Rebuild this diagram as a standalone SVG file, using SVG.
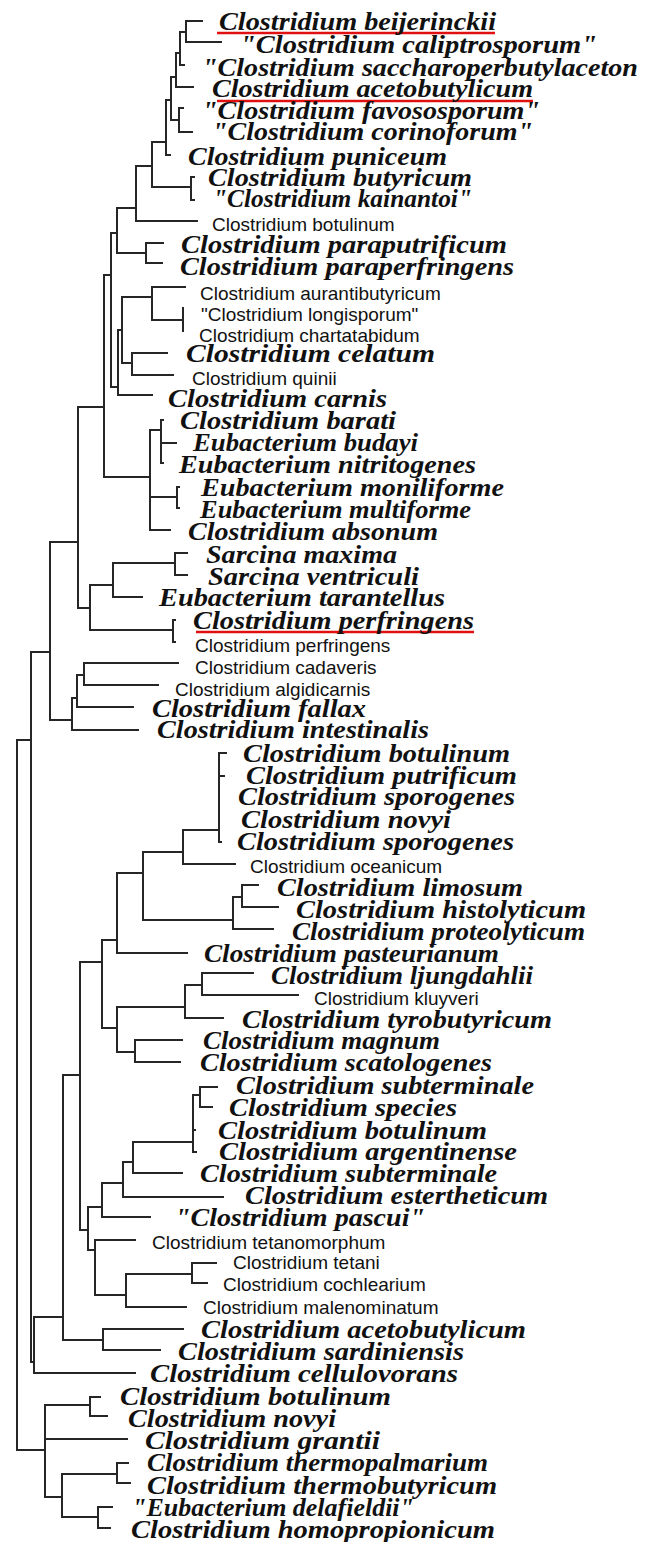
<svg xmlns="http://www.w3.org/2000/svg" width="647" height="1542" viewBox="0 0 647 1542">
<style>
.b{font-family:"Liberation Serif","Times New Roman",serif;font-weight:bold;font-style:italic;font-size:25px;fill:#111}
.p{font-family:"Liberation Sans",Arial,sans-serif;font-size:19px;fill:#111}
.l{stroke:#262626;stroke-width:2;fill:none;stroke-linecap:square}
.u{stroke:#e01010;stroke-width:2.5}
</style>
<rect width="647" height="1542" fill="#fff"/>
<g id="connectors">
<path class="l" d="M186 21V42M186 21H202M186 42H221"/>
<path class="l" d="M180 32V65M180 32H186M180 65H184"/>
<path class="l" d="M176 53V87M176 53H180M176 87H193"/>
<path class="l" d="M179 108V132M179 108H183M179 132H192"/>
<path class="l" d="M171 77V120M171 77H176M171 120H179"/>
<path class="l" d="M166 100V155M166 100H171M166 155H170"/>
<path class="l" d="M191 177V200M191 177H194M191 200H194"/>
<path class="l" d="M152 142V187M152 142H166M152 187H191"/>
<path class="l" d="M136 166V221M136 166H152M136 221H197"/>
<path class="l" d="M146 243V263M146 243H163M146 263H162"/>
<path class="l" d="M117 208V253M117 208H136M117 253H146"/>
<path class="l" d="M183 308V331"/>
<path class="l" d="M152 287V320M152 287H185M152 320H183"/>
<path class="l" d="M132 353V375M132 353H167M132 375H173"/>
<path class="l" d="M122 297V363M122 297H152M122 363H132"/>
<path class="l" d="M118 330V395M118 330H122M118 395H152"/>
<path class="l" d="M111 233V387M111 233H117M111 387H118"/>
<path class="l" d="M161 420V463M161 443H176M161 420H163M161 463H163"/>
<path class="l" d="M177 487V508M177 487H179M177 508H179"/>
<path class="l" d="M150 430V530M150 430H161M150 497H177M150 530H170"/>
<path class="l" d="M104 275V477M104 275H111M104 477H150"/>
<path class="l" d="M175 553V575M175 553H187M175 575H187"/>
<path class="l" d="M113 563V597M113 563H175M113 597H142"/>
<path class="l" d="M173 620V642M173 620H175M173 642H175"/>
<path class="l" d="M90 585V630M90 585H113M90 630H173"/>
<path class="l" d="M78 407V608M78 407H104M78 608H90"/>
<path class="l" d="M84 663V685M84 663H178M84 685H158"/>
<path class="l" d="M77 675V707M77 675H84M77 707H133"/>
<path class="l" d="M72 698V730M72 698H77M72 730H138"/>
<path class="l" d="M50 542V720M50 542H78M50 720H72"/>
<path class="l" d="M31 652V1362M31 652H50M31 1362H34"/>
<path class="l" d="M17 740V1450M17 740H31M17 1450H45"/>
<path class="l" d="M219 753V842M219 753H226M219 776H224M219 842H221"/>
<path class="l" d="M183 830V864M183 830H219M183 864H235"/>
<path class="l" d="M242 885V907M242 885H258M242 907H278"/>
<path class="l" d="M233 897V929M233 897H242M233 929H273"/>
<path class="l" d="M143 852V920M143 852H183M143 920H233"/>
<path class="l" d="M117 873V953M117 873H143M117 953H187"/>
<path class="l" d="M202 973V995M202 973H253M202 995H298"/>
<path class="l" d="M185 985V1018M185 985H202M185 1018H223"/>
<path class="l" d="M135 1040V1062M135 1040H182M135 1062H180"/>
<path class="l" d="M117 1007V1052M117 1007H185M117 1052H135"/>
<path class="l" d="M102 940V1028M102 940H117M102 1028H117"/>
<path class="l" d="M200 1087V1107M200 1087H217M200 1107H212"/>
<path class="l" d="M193 1095V1152M193 1095H200M193 1130H195M193 1152H196"/>
<path class="l" d="M133 1142V1173M133 1142H193M133 1173H182"/>
<path class="l" d="M123 1162V1197M123 1162H133M123 1197H223"/>
<path class="l" d="M102 1183V1217M102 1183H123M102 1217H150"/>
<path class="l" d="M192 1263V1283M192 1263H216M192 1283H207"/>
<path class="l" d="M126 1274V1307M126 1274H192M126 1307H186"/>
<path class="l" d="M95 1240V1295M95 1240H135M95 1295H126"/>
<path class="l" d="M88 1207V1250M88 1207H102M88 1250H95"/>
<path class="l" d="M80 962V1230M80 962H102M80 1230H88"/>
<path class="l" d="M103 1329V1350M103 1329H183M103 1350H160"/>
<path class="l" d="M63 1075V1340M63 1075H80M63 1340H103"/>
<path class="l" d="M34 1317V1373M34 1317H63M34 1373H135"/>
<path class="l" d="M90 1397V1416M90 1397H100M90 1416H107"/>
<path class="l" d="M45 1405V1497M45 1405H90M45 1439H127M45 1497H62"/>
<path class="l" d="M117 1463V1483M117 1463H128M117 1483H130"/>
<path class="l" d="M98 1507V1528M98 1507H112M98 1528H110"/>
<path class="l" d="M62 1474V1517M62 1474H117M62 1517H98"/>
<line class="u" x1="217" y1="33" x2="495" y2="33"/>
<line class="u" x1="217" y1="101" x2="533" y2="101"/>
<line class="u" x1="196" y1="632" x2="474" y2="632"/>
</g>
<g id="t1"><text class="b" x="219" y="30" textLength="277" lengthAdjust="spacingAndGlyphs">Clostridium beijerinckii</text></g>
<g id="t2"><text class="b" x="240" y="53" textLength="357" lengthAdjust="spacingAndGlyphs">"Clostridium caliptrosporum"</text></g>
<g id="t3"><text class="b" x="202" y="76" textLength="436" lengthAdjust="spacingAndGlyphs">"Clostridium saccharoperbutylaceton</text></g>
<g id="t4"><text class="b" x="212" y="97" textLength="321" lengthAdjust="spacingAndGlyphs">Clostridium acetobutylicum</text></g>
<g id="t5"><text class="b" x="202" y="119" textLength="338" lengthAdjust="spacingAndGlyphs">"Clostridium favososporum"</text></g>
<g id="t6"><text class="b" x="212" y="140" textLength="321" lengthAdjust="spacingAndGlyphs">"Clostridium corinoforum"</text></g>
<g id="t7"><text class="b" x="188" y="165" textLength="259" lengthAdjust="spacingAndGlyphs">Clostridium puniceum</text></g>
<g id="t8"><text class="b" x="208" y="186" textLength="264" lengthAdjust="spacingAndGlyphs">Clostridium butyricum</text></g>
<g id="t9"><text class="b" x="213" y="207" textLength="259" lengthAdjust="spacingAndGlyphs">"Clostridium kainantoi"</text></g>
<g id="t10"><text class="p" x="212" y="231">Clostridium botulinum</text></g>
<g id="t11"><text class="b" x="181" y="253" textLength="326" lengthAdjust="spacingAndGlyphs">Clostridium paraputrificum</text></g>
<g id="t12"><text class="b" x="180" y="275" textLength="334" lengthAdjust="spacingAndGlyphs">Clostridium paraperfringens</text></g>
<g id="t13"><text class="p" x="200" y="300">Clostridium aurantibutyricum</text></g>
<g id="t14"><text class="p" x="201" y="321">"Clostridium longisporum"</text></g>
<g id="t15"><text class="p" x="199" y="342">Clostridium chartatabidum</text></g>
<g id="t16"><text class="b" x="186" y="362" textLength="249" lengthAdjust="spacingAndGlyphs">Clostridium celatum</text></g>
<g id="t17"><text class="p" x="192" y="385">Clostridium quinii</text></g>
<g id="t18"><text class="b" x="168" y="407" textLength="219" lengthAdjust="spacingAndGlyphs">Clostridium carnis</text></g>
<g id="t19"><text class="b" x="180" y="429" textLength="216" lengthAdjust="spacingAndGlyphs">Clostridium barati</text></g>
<g id="t20"><text class="b" x="193" y="451" textLength="225" lengthAdjust="spacingAndGlyphs">Eubacterium budayi</text></g>
<g id="t21"><text class="b" x="179" y="473" textLength="297" lengthAdjust="spacingAndGlyphs">Eubacterium nitritogenes</text></g>
<g id="t22"><text class="b" x="201" y="496" textLength="303" lengthAdjust="spacingAndGlyphs">Eubacterium moniliforme</text></g>
<g id="t23"><text class="b" x="200" y="518" textLength="271" lengthAdjust="spacingAndGlyphs">Eubacterium multiforme</text></g>
<g id="t24"><text class="b" x="188" y="540" textLength="250" lengthAdjust="spacingAndGlyphs">Clostridium absonum</text></g>
<g id="t25"><text class="b" x="206" y="563" textLength="191" lengthAdjust="spacingAndGlyphs">Sarcina maxima</text></g>
<g id="t26"><text class="b" x="208" y="585" textLength="211" lengthAdjust="spacingAndGlyphs">Sarcina ventriculi</text></g>
<g id="t27"><text class="b" x="159" y="606" textLength="286" lengthAdjust="spacingAndGlyphs">Eubacterium tarantellus</text></g>
<g id="t28"><text class="b" x="193" y="629" textLength="281" lengthAdjust="spacingAndGlyphs">Clostridium perfringens</text></g>
<g id="t29"><text class="p" x="195" y="652">Clostridium perfringens</text></g>
<g id="t30"><text class="p" x="195" y="674">Clostridium cadaveris</text></g>
<g id="t31"><text class="p" x="175" y="696">Clostridium algidicarnis</text></g>
<g id="t32"><text class="b" x="152" y="717" textLength="214" lengthAdjust="spacingAndGlyphs">Clostridium fallax</text></g>
<g id="t33"><text class="b" x="157" y="738" textLength="272" lengthAdjust="spacingAndGlyphs">Clostridium intestinalis</text></g>
<g id="t34"><text class="b" x="243" y="762" textLength="267" lengthAdjust="spacingAndGlyphs">Clostridium botulinum</text></g>
<g id="t35"><text class="b" x="246" y="784" textLength="271" lengthAdjust="spacingAndGlyphs">Clostridium putrificum</text></g>
<g id="t36"><text class="b" x="238" y="805" textLength="277" lengthAdjust="spacingAndGlyphs">Clostridium sporogenes</text></g>
<g id="t37"><text class="b" x="241" y="828" textLength="210" lengthAdjust="spacingAndGlyphs">Clostridium novyi</text></g>
<g id="t38"><text class="b" x="237" y="850" textLength="277" lengthAdjust="spacingAndGlyphs">Clostridium sporogenes</text></g>
<g id="t39"><text class="p" x="250" y="873">Clostridium oceanicum</text></g>
<g id="t40"><text class="b" x="277" y="896" textLength="246" lengthAdjust="spacingAndGlyphs">Clostridium limosum</text></g>
<g id="t41"><text class="b" x="296" y="918" textLength="290" lengthAdjust="spacingAndGlyphs">Clostridium histolyticum</text></g>
<g id="t42"><text class="b" x="292" y="940" textLength="293" lengthAdjust="spacingAndGlyphs">Clostridium proteolyticum</text></g>
<g id="t43"><text class="b" x="204" y="962" textLength="295" lengthAdjust="spacingAndGlyphs">Clostridium pasteurianum</text></g>
<g id="t44"><text class="b" x="271" y="984" textLength="262" lengthAdjust="spacingAndGlyphs">Clostridium ljungdahlii</text></g>
<g id="t45"><text class="p" x="314" y="1005">Clostridium kluyveri</text></g>
<g id="t46"><text class="b" x="242" y="1028" textLength="310" lengthAdjust="spacingAndGlyphs">Clostridium tyrobutyricum</text></g>
<g id="t47"><text class="b" x="203" y="1049" textLength="237" lengthAdjust="spacingAndGlyphs">Clostridium magnum</text></g>
<g id="t48"><text class="b" x="200" y="1071" textLength="292" lengthAdjust="spacingAndGlyphs">Clostridium scatologenes</text></g>
<g id="t49"><text class="b" x="236" y="1094" textLength="298" lengthAdjust="spacingAndGlyphs">Clostridium subterminale</text></g>
<g id="t50"><text class="b" x="229" y="1116" textLength="228" lengthAdjust="spacingAndGlyphs">Clostridium species</text></g>
<g id="t51"><text class="b" x="218" y="1139" textLength="269" lengthAdjust="spacingAndGlyphs">Clostridium botulinum</text></g>
<g id="t52"><text class="b" x="219" y="1160" textLength="298" lengthAdjust="spacingAndGlyphs">Clostridium argentinense</text></g>
<g id="t53"><text class="b" x="200" y="1182" textLength="297" lengthAdjust="spacingAndGlyphs">Clostridium subterminale</text></g>
<g id="t54"><text class="b" x="245" y="1204" textLength="303" lengthAdjust="spacingAndGlyphs">Clostridium estertheticum</text></g>
<g id="t55"><text class="b" x="175" y="1226" textLength="250" lengthAdjust="spacingAndGlyphs">"Clostridium pascui"</text></g>
<g id="t56"><text class="p" x="152" y="1249">Clostridium tetanomorphum</text></g>
<g id="t57"><text class="p" x="233" y="1269">Clostridium tetani</text></g>
<g id="t58"><text class="p" x="223" y="1291">Clostridium cochlearium</text></g>
<g id="t59"><text class="p" x="203" y="1314">Clostridium malenominatum</text></g>
<g id="t60"><text class="b" x="201" y="1338" textLength="325" lengthAdjust="spacingAndGlyphs">Clostridium acetobutylicum</text></g>
<g id="t61"><text class="b" x="178" y="1360" textLength="286" lengthAdjust="spacingAndGlyphs">Clostridium sardiniensis</text></g>
<g id="t62"><text class="b" x="150" y="1382" textLength="308" lengthAdjust="spacingAndGlyphs">Clostridium cellulovorans</text></g>
<g id="t63"><text class="b" x="120" y="1405" textLength="271" lengthAdjust="spacingAndGlyphs">Clostridium botulinum</text></g>
<g id="t64"><text class="b" x="128" y="1427" textLength="208" lengthAdjust="spacingAndGlyphs">Clostridium novyi</text></g>
<g id="t65"><text class="b" x="145" y="1449" textLength="235" lengthAdjust="spacingAndGlyphs">Clostridium grantii</text></g>
<g id="t66"><text class="b" x="147" y="1471" textLength="341" lengthAdjust="spacingAndGlyphs">Clostridium thermopalmarium</text></g>
<g id="t67"><text class="b" x="147" y="1494" textLength="350" lengthAdjust="spacingAndGlyphs">Clostridium thermobutyricum</text></g>
<g id="t68"><text class="b" x="132" y="1516" textLength="282" lengthAdjust="spacingAndGlyphs">"Eubacterium delafieldii"</text></g>
<g id="t69"><text class="b" x="131" y="1538" textLength="364" lengthAdjust="spacingAndGlyphs">Clostridium homopropionicum</text></g>
</svg>
